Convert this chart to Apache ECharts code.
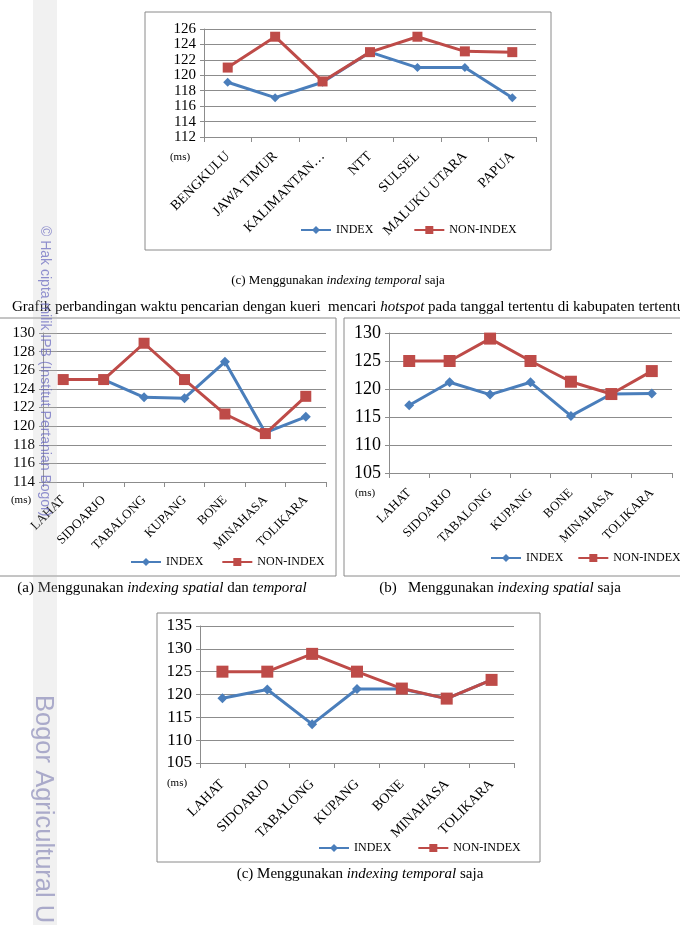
<!DOCTYPE html>
<html><head><meta charset="utf-8">
<script src="https://cdn.jsdelivr.net/npm/echarts@6/dist/echarts.min.js"></script>
<style>html,body{margin:0;padding:0;background:#fff}#c{width:680px;height:925px}</style>
</head><body><div id="c"></div>
<script>
// ---- data ----
var provinces = ['BENGKULU','JAWA TIMUR','KALIMANTAN…','NTT','SULSEL','MALUKU UTARA','PAPUA'];
var topIndex    = [119.1, 117.1, 119.1, 123.0, 121.0, 121.0, 117.1];
var topNonIndex = [121.0, 125.0, 119.2, 123.0, 125.0, 123.1, 123.0];

var kabupaten = ['LAHAT','SIDOARJO','TABALONG','KUPANG','BONE','MINAHASA','TOLIKARA'];
var aIndex    = [125.0, 125.0, 123.1, 123.0, 126.9, 119.3, 121.0];
var aNonIndex = [125.0, 125.0, 128.9, 125.0, 121.3, 119.2, 123.2];
var bIndex    = [117.1, 121.2, 119.0, 121.2, 115.2, 119.1, 119.2];
var bNonIndex = [125.0, 125.0, 129.0, 125.0, 121.3, 119.1, 123.2];
var cIndex    = [119.2, 121.1, 113.5, 121.2, 121.2, 119.1, 123.2];
var cNonIndex = [125.0, 125.0, 128.9, 125.0, 121.3, 119.1, 123.2];

var seriesNames = ['INDEX','NON-INDEX'];
var yTop = [112, 126, 2], yA = [114, 130, 2], yB = [105, 130, 5], yC = [105, 135, 5];

// ---- styling ----
var SERIF = '"Liberation Serif","Times New Roman",serif';
var BLUE = '#4a7ebb', RED = '#be4b48', GRID = '#8c8c8c';

var grids = [
  {left:204, top:29,  width:332, height:108},
  {left:43,  top:333, width:283, height:149},
  {left:389, top:333, width:283, height:140},
  {left:200, top:626, width:314, height:137}
];
var cats = [provinces, kabupaten, kabupaten, kabupaten];
var yr = [yTop, yA, yB, yC];
var yFont = [15, 15, 18, 17];
var xFont = [14, 13, 13, 14];
var xMargin = [17, 16, 18, 19];
var data = [[topIndex, topNonIndex],[aIndex,aNonIndex],[bIndex,bNonIndex],[cIndex,cNonIndex]];
var sym = [[9,10],[10,11],[10,12],[10,12]];

var xAxes = [], yAxes = [], series = [];
for (var i=0;i<4;i++){
  xAxes.push({type:'category', gridIndex:i, data:cats[i], boundaryGap:true,
    axisLine:{lineStyle:{color:GRID, width:1}},
    axisTick:{show:true, length:5, lineStyle:{color:GRID}},
    axisLabel:{rotate:45, margin:xMargin[i], color:'#000', fontFamily:SERIF, fontSize:xFont[i], interval:0}});
  yAxes.push({type:'value', gridIndex:i, min:yr[i][0], max:yr[i][1], interval:yr[i][2],
    axisLine:{show:true, lineStyle:{color:GRID}},
    axisTick:{show:true, length:4, lineStyle:{color:GRID}},
    splitLine:{lineStyle:{color:GRID, width:1}},
    axisLabel:{color:'#000', fontFamily:SERIF, fontSize:yFont[i], margin:8,
      showMinLabel:true, showMaxLabel:true, hideOverlap:false}});
  series.push({name:seriesNames[0], type:'line', xAxisIndex:i, yAxisIndex:i, data:data[i][0],
    symbol:'diamond', symbolSize:sym[i][0], color:BLUE, lineStyle:{width:3, color:BLUE},
    itemStyle:{color:BLUE}, animation:false});
  series.push({name:seriesNames[1], type:'line', xAxisIndex:i, yAxisIndex:i, data:data[i][1],
    symbol:'rect', symbolSize:sym[i][1], color:RED, lineStyle:{width:3, color:RED},
    itemStyle:{color:RED}, animation:false});
}

function legend(left, top, gap){
  return {data:seriesNames, left:left, top:top, width:400, padding:0, itemWidth:30, itemHeight:10, itemGap:gap,
    selectedMode:false, textStyle:{fontFamily:SERIF, fontSize:12, color:'#000'}};
}

function box(x,y,w,h){ return {type:'rect', shape:{x:x,y:y,width:w,height:h}, style:{fill:'none', stroke:'#8a8a8a', lineWidth:1}, z:-1}; }
function txt(x,y,t,size,align){
  return {type:'text', x:x, y:y, style:{text:t, fontFamily:SERIF, fontSize:size, fill:'#000',
    textAlign:align||'center', textVerticalAlign:'middle',
    rich:{i:{fontStyle:'italic', fontFamily:SERIF, fontSize:size, fill:'#000'}}}};
}

var option = {
  backgroundColor:'#fff',
  animation:false,
  grid: grids,
  xAxis: xAxes,
  yAxis: yAxes,
  series: series,
  legend: [legend(300,224,40), legend(130,556,18), legend(490,552,14), legend(318,842,26)],
  graphic: [
    box(145,12,406,238),
    box(-1,318,337,258),
    box(344,318,340,258),
    box(157,613,383,249),
    txt(180,157,'(ms)',11),
    txt(21,500,'(ms)',11),
    txt(365,493,'(ms)',11),
    txt(177,783,'(ms)',11),
    txt(338,281,'(c) Menggunakan {i|indexing temporal} saja',13),
    txt(12,307,'Grafik perbandingan waktu pencarian dengan kueri  mencari {i|hotspot} pada tanggal tertentu di kabupaten tertentu',15,'left'),
    txt(162,588,'(a) Menggunakan {i|indexing spatial} dan {i|temporal}',15),
    txt(500,588,'(b)   Menggunakan {i|indexing spatial} saja',15),
    txt(360,874,'(c) Menggunakan {i|indexing temporal} saja',15),
    {type:'rect', shape:{x:33,y:0,width:24,height:925}, style:{fill:'rgba(190,190,190,0.22)'}, z:50},
    {type:'text', x:45, y:226, rotation:-Math.PI/2, z:51,
      style:{text:'© Hak cipta milik IPB (Institut Pertanian Bogor)', fontFamily:'"Liberation Sans",Arial,sans-serif',
        fontSize:14, fill:'rgba(100,100,190,0.7)', textAlign:'left', textVerticalAlign:'middle'}},
    {type:'text', x:43, y:695, rotation:-Math.PI/2, z:51,
      style:{text:'Bogor Agricultural University', fontFamily:'"Liberation Sans",Arial,sans-serif',
        fontSize:25.5, fill:'rgba(140,140,185,0.7)', textAlign:'left', textVerticalAlign:'middle'}}
  ]
};
var chart = echarts.init(document.getElementById('c'), null, {renderer:'canvas'});
chart.setOption(option);
</script></body></html>
